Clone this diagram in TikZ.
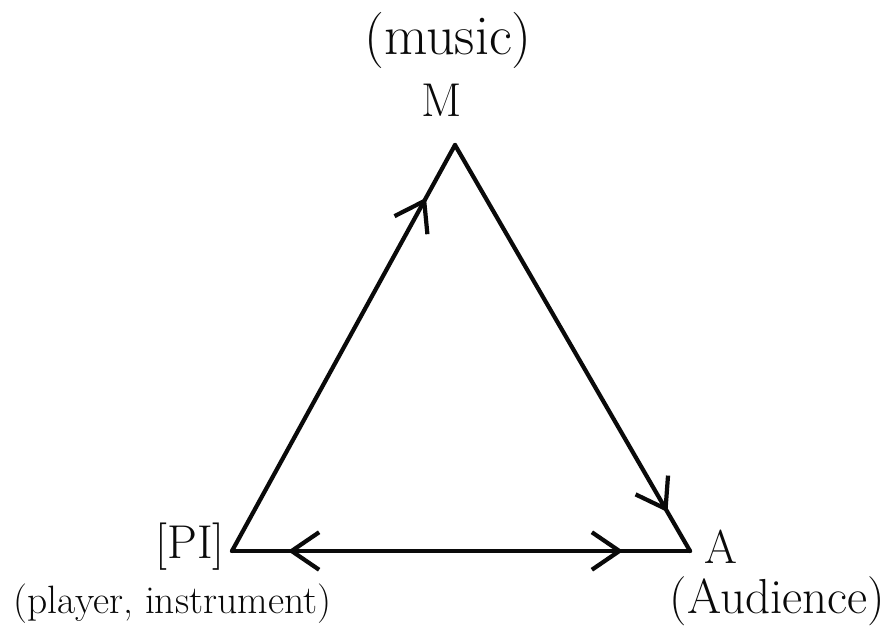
\documentclass[tikz,border=0pt]{standalone}
\usepackage{tikz}
\usetikzlibrary{arrows.meta, positioning, calc, decorations.markings}
\definecolor{myink}{RGB}{10,10,10}
\tikzset{
  vertex/.style={inner sep=0pt, minimum size=0pt},
  edge/.style={draw=myink, line width=2.4pt, line cap=round, line join=round},
  vlabel/.style={font=\fontsize{27}{30}\selectfont, text=myink},
  sublabel/.style={font=\fontsize{22.5}{26}\selectfont, text=myink},
  barb/.tip={Straight Barb[length=5.5mm, width=7.5mm, line width=2.4pt]},
  markat/.style={postaction={decorate, decoration={markings,
    mark=at position #1 with {\arrow[myink]{barb}}}}},
  markback/.style={postaction={decorate, decoration={markings,
    mark=at position #1 with {\arrowreversed[myink]{barb}}}}}
}

\begin{document}
\begin{tikzpicture}
  \useasboundingbox (0,0) rectangle (17.88,12.62);

  % Vertices
  \coordinate (mus) at (9.1, 9.72);
  \coordinate (pli) at (4.64, 1.6);
  \coordinate (aud) at (13.8, 1.6);

  % Labels
  \node[vlabel] (mlab) at (8.84, 10.62) {M};
  \node[vlabel, font=\fontsize{32}{34}\selectfont] (mtxt) at (8.96, 11.82) {(music)};
  \node[vlabel] (plab) at (3.8, 1.68) {[PI]};
  \node[sublabel] (ptxt) at (3.45, 0.55) {(player, instrument)};
  \node[vlabel] (alab) at (14.42, 1.68) {A};
  \node[sublabel, font=\fontsize{28}{30}\selectfont] (atxt) at (15.55, 0.6) {(Audience)};

  % Edges
  \draw[edge, markat=0.87] (pli) -- (mus);
  \draw[edge, markat=0.904] (mus) -- (aud);
  \draw[edge, markback=0.122, markat=0.854] (pli) -- (aud);
\end{tikzpicture}
\end{document}
